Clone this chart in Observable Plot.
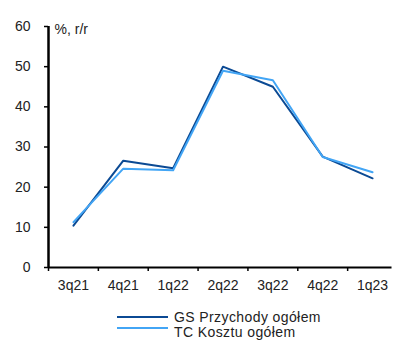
<!DOCTYPE html>
<html><head><meta charset="utf-8">
<script src="https://cdn.jsdelivr.net/npm/d3@7"></script>
<script src="https://cdn.jsdelivr.net/npm/@observablehq/plot@0.6"></script>
<style>
body{margin:0;background:#fff;overflow:hidden;font-family:"Liberation Sans",Arial,sans-serif;}
#wrap{position:relative;width:393px;height:340px;overflow:hidden;}
.lg{position:absolute;font-size:14px;line-height:15px;color:#222;white-space:nowrap;letter-spacing:0.4px;}
.sw{position:absolute;height:2px;width:51px;}
</style>
</head><body><div id="wrap"></div>
<script>
const quarters = ["3q21","4q21","1q22","2q22","3q22","4q22","1q23"];
const gsRevenue = [10.4, 26.6, 24.7, 50.0, 45.0, 27.6, 22.2];
const tcCosts = [11.3, 24.6, 24.2, 49.0, 46.6, 27.5, 23.7];
const seriesNames = ["GS Przychody ogółem", "TC Kosztu ogółem"];
const colors = ["#0b4a94", "#42a5f5"];
const yTicks = [0,10,20,30,40,50,60];
const yLabel = "%, r/r";

const rows = [];
quarters.forEach((q,i)=>{
  rows.push({i, q, v: gsRevenue[i], s: seriesNames[0]});
  rows.push({i, q, v: tcCosts[i], s: seriesNames[1]});
});
const idx = quarters.map((_,i)=>i);
const bounds = quarters.slice(0,-1).map((_,i)=>i-0.5).concat([quarters.length-1.5]);

const chart = Plot.plot({
  width: 393, height: 300,
  marginLeft: 48, marginTop: 26, marginBottom: 33, marginRight: 0,
  style: {fontFamily: '"Liberation Sans", Arial, sans-serif', fontSize: "14px", color: "#222", background: "#fff"},
  x: {type: "linear", domain: [-0.5, quarters.length-0.5], range: [48, 397]},
  y: {domain: [0, 60], range: [267, 26]},
  color: {domain: seriesNames, range: colors},
  marks: [
    Plot.axisY({ticks: yTicks, tickSize: 4, tickPadding: 14, label: null, stroke: "#000", strokeWidth: 1.5, fill: "#222"}),
    Plot.axisX({ticks: bounds, tickSize: 4, tickFormat: () => "", label: null, stroke: "#000", strokeWidth: 1.5}),
    Plot.axisX({ticks: idx, tickSize: 0, tickPadding: 13, tickFormat: i => quarters[i], label: null, fill: "#222"}),
    Plot.lineY(rows, {x: "i", y: "v", z: "s", stroke: "s", strokeWidth: 2}),
    Plot.ruleX([-0.5], {stroke: "#000", strokeWidth: 2.5}),
    Plot.ruleY([0], {stroke: "#000", strokeWidth: 2, x1: -0.5, x2: 6.39}),
    Plot.text([yLabel], {frameAnchor: "top-left", dx: 6, dy: 3, textAnchor: "start", lineAnchor: "middle", fill: "#222", fontSize: 14})
  ]
});
const wrap = document.getElementById("wrap");
wrap.appendChild(chart);
chart.style.position = "absolute"; chart.style.left = "0"; chart.style.top = "0";

const lineY = [316, 327];
const textY = [310, 325];
seriesNames.forEach((n, k) => {
  const sw = document.createElement("div");
  sw.className = "sw"; sw.style.left = "117px"; sw.style.top = (lineY[k]) + "px"; sw.style.background = colors[k];
  wrap.appendChild(sw);
  const t = document.createElement("div");
  t.className = "lg"; t.style.left = "174px"; t.style.top = textY[k] + "px"; t.textContent = n;
  wrap.appendChild(t);
});
</script></body></html>
